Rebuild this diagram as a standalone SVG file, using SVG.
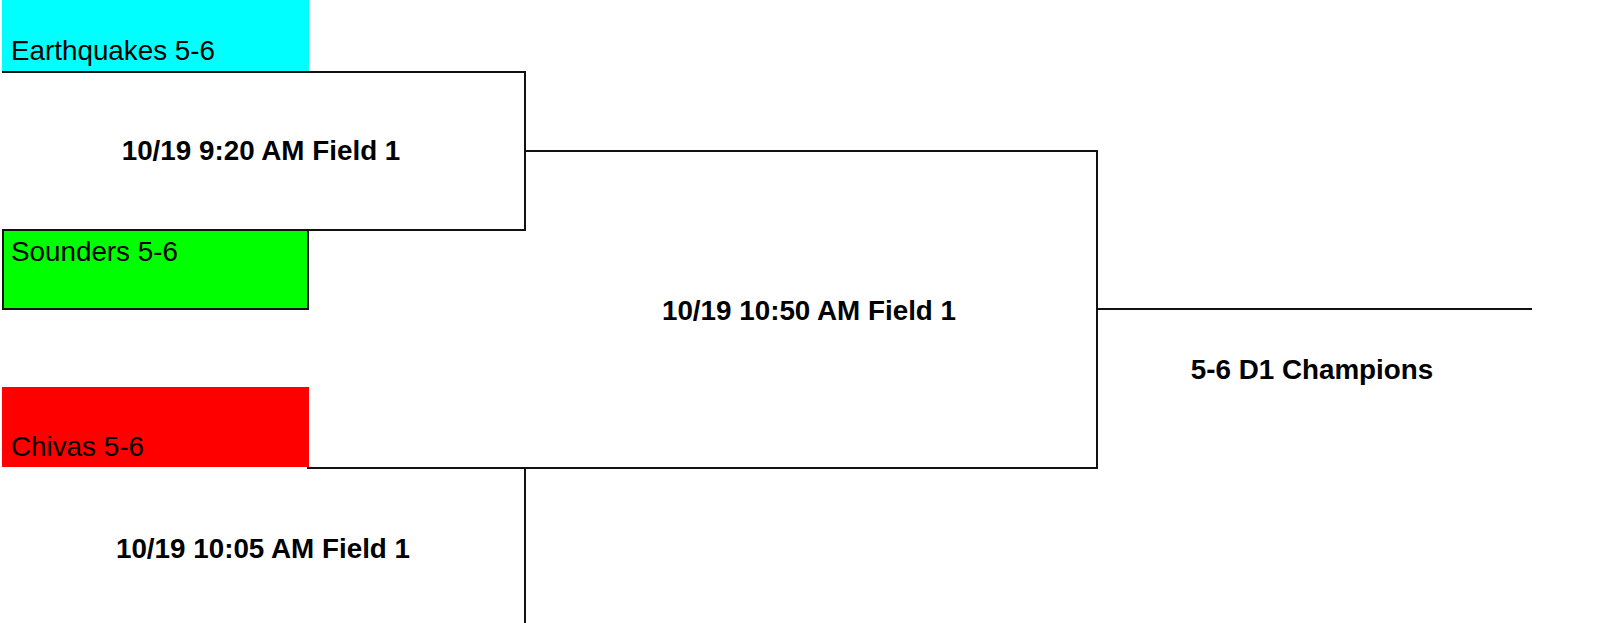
<svg xmlns="http://www.w3.org/2000/svg" width="1600" height="623" viewBox="0 0 1600 623">
<style>
.team{font-family:"Liberation Sans",Arial,sans-serif;font-size:27.8px;fill:#000}
.game{font-family:"Liberation Sans",Arial,sans-serif;font-size:27.8px;font-weight:bold;fill:#000;text-anchor:middle}
.line{fill:none;stroke:#111;stroke-width:2}
</style>
<rect width="1600" height="623" fill="#fff"/>
<g id="team-earthquakes">
<rect x="2" y="0" width="307" height="72" fill="#00ffff"/>
<text class="team" x="11" y="60">Earthquakes 5-6</text>
</g>
<g id="team-sounders">
<rect x="3" y="230" width="305" height="79" fill="#00ff00" stroke="#111" stroke-width="2"/>
<text class="team" x="11" y="261">Sounders 5-6</text>
</g>
<g id="team-chivas">
<rect x="2" y="387" width="307" height="80" fill="#ff0000"/>
<text class="team" x="11" y="456">Chivas 5-6</text>
</g>
<g id="connectors">
<polyline class="line" points="2,72 525,72 525,230 2,230"/>
<polyline class="line" points="525,151 1097,151 1097,468 307,468"/>
<line class="line" x1="525" y1="468" x2="525" y2="623"/>
<line class="line" x1="1097" y1="309" x2="1532" y2="309"/>
</g>
<g id="game-1"><text class="game" x="261" y="160">10/19 9:20 AM Field 1</text></g>
<g id="game-2"><text class="game" x="809" y="320">10/19 10:50 AM Field 1</text></g>
<g id="game-3"><text class="game" x="263" y="558">10/19 10:05 AM Field 1</text></g>
<g id="champion"><text class="game" x="1312" y="379">5-6 D1 Champions</text></g>
</svg>
